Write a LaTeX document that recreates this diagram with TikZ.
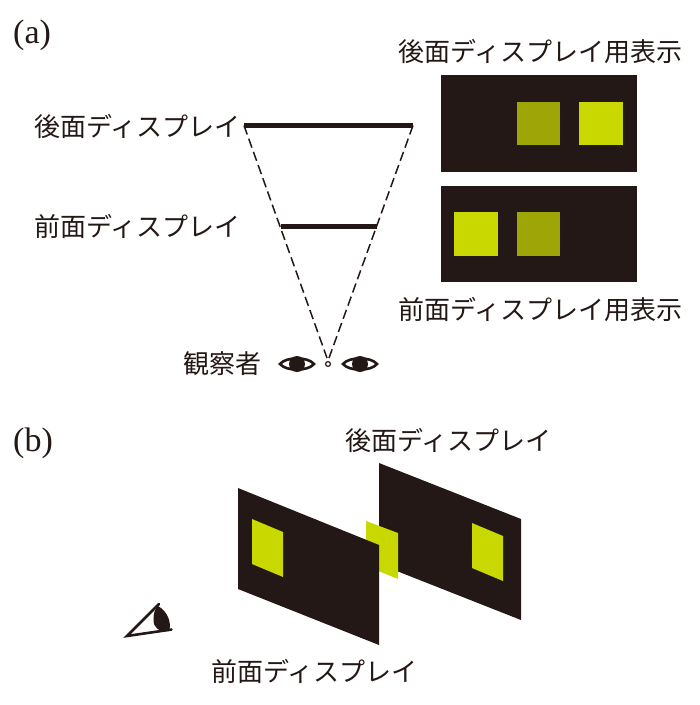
\documentclass[tikz,border=0pt]{standalone}
\usepackage{fontspec}
\setmainfont{Liberation Serif}
\newfontfamily\cjk{Noto Sans CJK JP}[Scale=1]
\definecolor{panel}{HTML}{231815}
\definecolor{lime}{HTML}{C8D800}
\definecolor{olive}{HTML}{9EA607}
\tikzset{
  jp/.style={inner sep=0pt,font=\cjk\fontsize{26}{27}\selectfont,text=panel},
  lab/.style={inner sep=0pt,font=\fontsize{34}{35}\selectfont,text=panel},
  bar/.style={draw=panel,line width=4.4pt},
  sight/.style={draw=panel,line width=1.5pt,dash pattern=on 9.5pt off 4.5pt},
  eyebase/.style={draw=panel,line width=2.6pt,fill=white},
  thin/.style={draw=panel,line width=2.6pt,line cap=round}
}
\newcommand{\eyeicon}[2]{%
  \draw[eyebase] (#1-17,#2) .. controls (#1-11,#2-7.5) and (#1+11,#2-7.5) .. (#1+17,#2) .. controls (#1+11,#2+7.5) and (#1-11,#2+7.5) .. (#1-17,#2) -- cycle;
  \fill[panel] (#1,#2) circle[radius=8];
}
\begin{document}
\begin{tikzpicture}[x=1pt,y=-1pt]
\useasboundingbox (0,0) rectangle (700,705);
\node[lab,anchor=west] (la) at (13,35) {(a)};
\node[lab,anchor=west] (lb) at (13,443) {(b)};
% labels (a)
\node[jp,anchor=west] (t1) at (398,52) {後面ディスプレイ用表示};
\node[jp,anchor=west] (t2) at (398,310) {前面ディスプレイ用表示};
\node[jp,anchor=west] (t3) at (34,126) {後面ディスプレイ};
\node[jp,anchor=west] (t4) at (34,226) {前面ディスプレイ};
\node[jp,anchor=west] (t5) at (183,364) {観察者};
\node[jp,anchor=west] (t6) at (345,440) {後面ディスプレイ};
\node[jp,anchor=west] (t7) at (211,671) {前面ディスプレイ};
% panels (a)
\fill[panel] (441,75) rectangle (637,172);
\fill[panel] (441,186) rectangle (637,282);
\fill[olive] (517,102) rectangle (560,145);
\fill[lime] (579,102) rectangle (623,145);
\fill[lime] (454,212) rectangle (498,256);
\fill[olive] (517,212) rectangle (560,256);
% sight lines
\coordinate (rl) at (244,125.5);
\coordinate (rr) at (413,125.5);
\coordinate (fl) at (281,226.5);
\coordinate (fr) at (377,226.5);
\coordinate (el) at (327,358);
\coordinate (er) at (329,358);
\draw[sight] (rl) -- (el);
\draw[sight] (rr) -- (er);
\draw[bar] (rl) -- (rr);
\draw[bar] (fl) -- (fr);
\draw[panel,line width=1.2pt] (328,364) circle[radius=2.4];
\eyeicon{297}{364}
\eyeicon{360}{364}
% panels (b)
\fill[panel] (379,463) -- (521,519) -- (521,620) -- (379,564) -- cycle;
\fill[lime] (472,523) -- (503,536) -- (503,581) -- (472,568) -- cycle;
\fill[lime] (366,521) -- (398,533) -- (398,579) -- (366,566) -- cycle;
\fill[panel] (238,488) -- (379,545) -- (379,645) -- (238,589) -- cycle;
\fill[lime] (252,519) -- (283,532) -- (283,577) -- (252,564) -- cycle;
% viewer (b)
\coordinate (va) at (127,636);
\coordinate (vt) at (159,604);
\coordinate (vb) at (171.5,629.5);
\draw[thin] (vt) -- (va) -- (vb);
\fill[panel] (158,606) .. controls (167,611) and (172,622) .. (169,631) .. controls (159,632) and (153,628) .. (153.5,619) .. controls (153.5,613) and (155,609) .. (158,606) -- cycle;
\end{tikzpicture}
\end{document}
